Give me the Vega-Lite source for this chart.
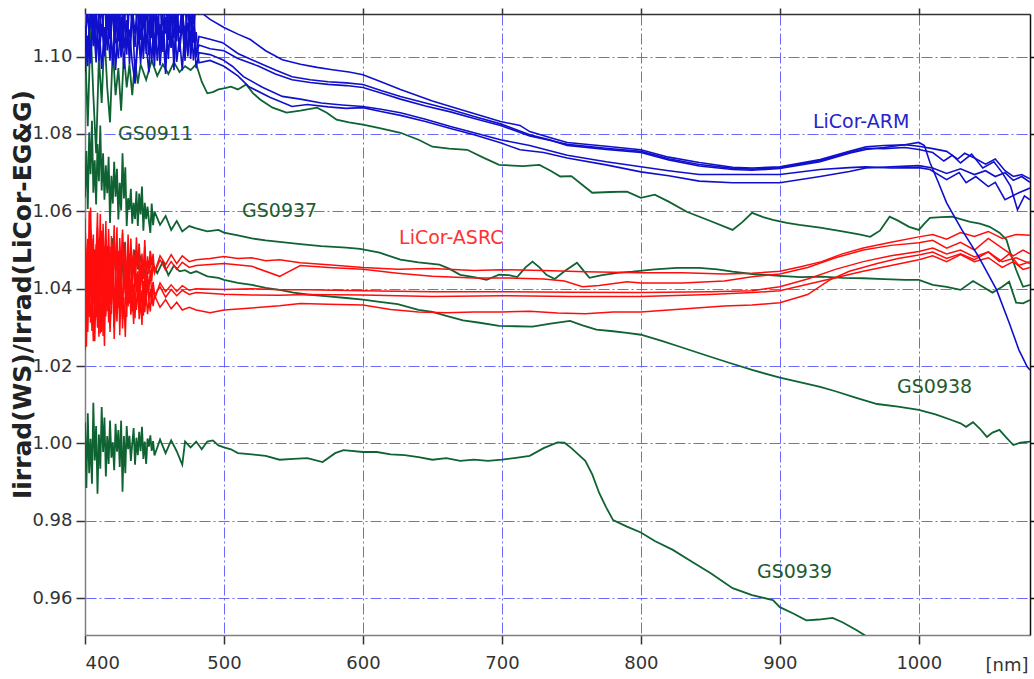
{
"$schema": "https://vega.github.io/schema/vega-lite/v6.json",
"width": 945, "height": 621, "autosize": "none",
"padding": {"left": 85, "top": 14, "right": 4, "bottom": 44},
"background": "white",
"config": {"view": {"stroke": null}, "font": "DejaVu Sans"},
"datasets": {
"labels": [
{"x":423.7,"y":1.080,"t":"GS0911","c":"G"},
{"x":513,"y":1.0602,"t":"GS0937","c":"G"},
{"x":626,"y":1.053,"t":"LiCor-ASRC","c":"R"},
{"x":923.8,"y":1.0832,"t":"LiCor-ARM","c":"B"},
{"x":984.3,"y":1.0146,"t":"GS0938","c":"G"},
{"x":883.5,"y":0.9667,"t":"GS0939","c":"G"}
],
"lines": [
{"s":"G39","x":400,"y":1.0055},{"s":"G39","x":401,"y":0.9885},{"s":"G39","x":402,"y":1.0078},{"s":"G39","x":403,"y":0.9923},{"s":"G39","x":404,"y":1.0012},{"s":"G39","x":405,"y":0.9896},{"s":"G39","x":406,"y":1.0105},{"s":"G39","x":407,"y":0.9956},{"s":"G39","x":408,"y":1.0045},{"s":"G39","x":409,"y":0.987},{"s":"G39","x":410,"y":1.0023},{"s":"G39","x":411,"y":0.9935},{"s":"G39","x":412,"y":1.0094},{"s":"G39","x":413,"y":0.9978},{"s":"G39","x":414,"y":1.0067},{"s":"G39","x":415,"y":0.9915},{"s":"G39","x":416,"y":1.0019},{"s":"G39","x":417,"y":0.9947},{"s":"G39","x":418,"y":1.0059},{"s":"G39","x":419,"y":0.9963},{"s":"G39","x":420,"y":1.0003},{"s":"G39","x":421,"y":0.9931},{"s":"G39","x":422,"y":1.0051},{"s":"G39","x":423,"y":0.9979},{"s":"G39","x":424,"y":1.0035},{"s":"G39","x":425,"y":0.9939},{"s":"G39","x":426,"y":1.0059},{"s":"G39","x":427,"y":0.9875},{"s":"G39","x":428,"y":1.0019},{"s":"G39","x":429,"y":0.9923},{"s":"G39","x":430,"y":1.0045},{"s":"G39","x":431,"y":0.9985},{"s":"G39","x":432,"y":1.002},{"s":"G39","x":433,"y":0.9955},{"s":"G39","x":434,"y":1.0},{"s":"G39","x":435,"y":1.004},{"s":"G39","x":436,"y":0.9945},{"s":"G39","x":437,"y":1.0015},{"s":"G39","x":438,"y":0.997},{"s":"G39","x":439,"y":1.003},{"s":"G39","x":440,"y":0.998},{"s":"G39","x":441,"y":1.0043},{"s":"G39","x":442,"y":0.996},{"s":"G39","x":443,"y":1.0005},{"s":"G39","x":444,"y":0.9947},{"s":"G39","x":445,"y":1.0013},{"s":"G39","x":446,"y":0.9992},{"s":"G39","x":447,"y":1.0021},{"s":"G39","x":448,"y":0.9981},{"s":"G39","x":449,"y":1.0006},{"s":"G39","x":450,"y":0.9969},{"s":"G39","x":454,"y":1.001},{"s":"G39","x":458,"y":0.9975},{"s":"G39","x":462,"y":1.0008},{"s":"G39","x":466,"y":0.998},{"s":"G39","x":470,"y":0.9945},{"s":"G39","x":472,"y":1.0005},{"s":"G39","x":476,"y":0.999},{"s":"G39","x":480,"y":1.0005},{"s":"G39","x":484,"y":0.9985},{"s":"G39","x":488,"y":1.0005},{"s":"G39","x":492,"y":1.0008},{"s":"G39","x":496,"y":0.9995},{"s":"G39","x":500,"y":0.999},{"s":"G39","x":505,"y":0.9985},{"s":"G39","x":510,"y":0.9975},{"s":"G39","x":520,"y":0.9972},{"s":"G39","x":530,"y":0.9968},{"s":"G39","x":540,"y":0.9958},{"s":"G39","x":550,"y":0.996},{"s":"G39","x":560,"y":0.9962},{"s":"G39","x":571,"y":0.9952},{"s":"G39","x":580,"y":0.9975},{"s":"G39","x":586,"y":0.9983},{"s":"G39","x":600,"y":0.9978},{"s":"G39","x":610,"y":0.9978},{"s":"G39","x":620,"y":0.9972},{"s":"G39","x":630,"y":0.997},{"s":"G39","x":640,"y":0.9965},{"s":"G39","x":650,"y":0.9958},{"s":"G39","x":660,"y":0.9962},{"s":"G39","x":670,"y":0.9955},{"s":"G39","x":680,"y":0.9958},{"s":"G39","x":690,"y":0.9955},{"s":"G39","x":700,"y":0.9958},{"s":"G39","x":710,"y":0.9963},{"s":"G39","x":720,"y":0.9968},{"s":"G39","x":730,"y":0.9988},{"s":"G39","x":740,"y":1.0003},{"s":"G39","x":745,"y":1.0002},{"s":"G39","x":750,"y":0.9988},{"s":"G39","x":760,"y":0.9955},{"s":"G39","x":765,"y":0.992},{"s":"G39","x":770,"y":0.9872},{"s":"G39","x":775,"y":0.9835},{"s":"G39","x":780,"y":0.9802},{"s":"G39","x":790,"y":0.9785},{"s":"G39","x":800,"y":0.977},{"s":"G39","x":810,"y":0.9748},{"s":"G39","x":823,"y":0.9725},{"s":"G39","x":835,"y":0.9698},{"s":"G39","x":850,"y":0.9665},{"s":"G39","x":866,"y":0.9626},{"s":"G39","x":880,"y":0.9608},{"s":"G39","x":895,"y":0.9595},{"s":"G39","x":900,"y":0.9577},{"s":"G39","x":910,"y":0.956},{"s":"G39","x":919,"y":0.9543},{"s":"G39","x":928,"y":0.9545},{"s":"G39","x":938,"y":0.9549},{"s":"G39","x":945,"y":0.9538},{"s":"G39","x":955,"y":0.9518},{"s":"G39","x":963,"y":0.95},
{"s":"G38","x":400,"y":1.052},{"s":"G38","x":402,"y":1.041},{"s":"G38","x":404,"y":1.055},{"s":"G38","x":406,"y":1.043},{"s":"G38","x":408,"y":1.050},{"s":"G38","x":410,"y":1.038},{"s":"G38","x":412,"y":1.054},{"s":"G38","x":414,"y":1.044},{"s":"G38","x":416,"y":1.051},{"s":"G38","x":418,"y":1.040},{"s":"G38","x":420,"y":1.053},{"s":"G38","x":422,"y":1.045},{"s":"G38","x":424,"y":1.049},{"s":"G38","x":426,"y":1.041},{"s":"G38","x":428,"y":1.052},{"s":"G38","x":430,"y":1.044},{"s":"G38","x":432,"y":1.049},{"s":"G38","x":434,"y":1.042},{"s":"G38","x":436,"y":1.050},{"s":"G38","x":438,"y":1.045},{"s":"G38","x":440,"y":1.048},{"s":"G38","x":444,"y":1.043},{"s":"G38","x":448,"y":1.047},{"s":"G38","x":452,"y":1.044},{"s":"G38","x":456,"y":1.047},{"s":"G38","x":460,"y":1.0435},{"s":"G38","x":464,"y":1.046},{"s":"G38","x":468,"y":1.0445},{"s":"G38","x":472,"y":1.0448},{"s":"G38","x":476,"y":1.044},{"s":"G38","x":480,"y":1.0445},{"s":"G38","x":488,"y":1.0432},{"s":"G38","x":496,"y":1.0428},{"s":"G38","x":500,"y":1.0423},{"s":"G38","x":510,"y":1.0415},{"s":"G38","x":520,"y":1.041},{"s":"G38","x":530,"y":1.0402},{"s":"G38","x":540,"y":1.0397},{"s":"G38","x":550,"y":1.039},{"s":"G38","x":560,"y":1.0385},{"s":"G38","x":575,"y":1.038},{"s":"G38","x":588,"y":1.0376},{"s":"G38","x":600,"y":1.0372},{"s":"G38","x":612,"y":1.0366},{"s":"G38","x":625,"y":1.036},{"s":"G38","x":640,"y":1.0345},{"s":"G38","x":650,"y":1.034},{"s":"G38","x":660,"y":1.033},{"s":"G38","x":672,"y":1.0318},{"s":"G38","x":684,"y":1.0312},{"s":"G38","x":698,"y":1.0304},{"s":"G38","x":710,"y":1.0303},{"s":"G38","x":722,"y":1.0302},{"s":"G38","x":735,"y":1.031},{"s":"G38","x":749,"y":1.0317},{"s":"G38","x":758,"y":1.0305},{"s":"G38","x":768,"y":1.0294},{"s":"G38","x":780,"y":1.029},{"s":"G38","x":790,"y":1.0286},{"s":"G38","x":800,"y":1.0281},{"s":"G38","x":815,"y":1.0265},{"s":"G38","x":828,"y":1.025},{"s":"G38","x":845,"y":1.023},{"s":"G38","x":864,"y":1.0208},{"s":"G38","x":880,"y":1.019},{"s":"G38","x":900,"y":1.017},{"s":"G38","x":915,"y":1.0158},{"s":"G38","x":929,"y":1.0146},{"s":"G38","x":940,"y":1.0135},{"s":"G38","x":955,"y":1.0118},{"s":"G38","x":970,"y":1.0102},{"s":"G38","x":985,"y":1.0095},{"s":"G38","x":1000,"y":1.0087},{"s":"G38","x":1012,"y":1.0075},{"s":"G38","x":1024,"y":1.006},{"s":"G38","x":1030,"y":1.0052},{"s":"G38","x":1034,"y":1.0043},{"s":"G38","x":1039,"y":1.0055},{"s":"G38","x":1044,"y":1.0038},{"s":"G38","x":1049,"y":1.0017},{"s":"G38","x":1053,"y":1.0028},{"s":"G38","x":1058,"y":1.0035},{"s":"G38","x":1063,"y":1.0015},{"s":"G38","x":1068,"y":0.9996},{"s":"G38","x":1073,"y":1.0002},{"s":"G38","x":1080,"y":1.0005},
{"s":"G37","x":400,"y":1.0636},{"s":"G37","x":401,"y":1.0756},{"s":"G37","x":402,"y":1.0606},{"s":"G37","x":403,"y":1.0804},{"s":"G37","x":404,"y":1.0696},{"s":"G37","x":405,"y":1.0834},{"s":"G37","x":406,"y":1.0648},{"s":"G37","x":407,"y":1.0732},{"s":"G37","x":408,"y":1.0618},{"s":"G37","x":409,"y":1.0774},{"s":"G37","x":410,"y":1.0678},{"s":"G37","x":411,"y":1.0822},{"s":"G37","x":412,"y":1.0654},{"s":"G37","x":413,"y":1.075},{"s":"G37","x":414,"y":1.063},{"s":"G37","x":415,"y":1.0719},{"s":"G37","x":416,"y":1.0647},{"s":"G37","x":417,"y":1.0741},{"s":"G37","x":418,"y":1.057},{"s":"G37","x":419,"y":1.0692},{"s":"G37","x":420,"y":1.062},{"s":"G37","x":421,"y":1.0728},{"s":"G37","x":422,"y":1.0638},{"s":"G37","x":423,"y":1.071},{"s":"G37","x":424,"y":1.0579},{"s":"G37","x":425,"y":1.0674},{"s":"G37","x":426,"y":1.0602},{"s":"G37","x":427,"y":1.075},{"s":"G37","x":428,"y":1.0633},{"s":"G37","x":429,"y":1.0714},{"s":"G37","x":430,"y":1.0562},{"s":"G37","x":431,"y":1.0634},{"s":"G37","x":432,"y":1.0604},{"s":"G37","x":433,"y":1.0658},{"s":"G37","x":434,"y":1.0568},{"s":"G37","x":435,"y":1.0622},{"s":"G37","x":436,"y":1.058},{"s":"G37","x":437,"y":1.0652},{"s":"G37","x":438,"y":1.0562},{"s":"G37","x":439,"y":1.0646},{"s":"G37","x":440,"y":1.0592},{"s":"G37","x":441,"y":1.0664},{"s":"G37","x":442,"y":1.055},{"s":"G37","x":443,"y":1.0622},{"s":"G37","x":444,"y":1.058},{"s":"G37","x":445,"y":1.0612},{"s":"G37","x":446,"y":1.0576},{"s":"G37","x":447,"y":1.0544},{"s":"G37","x":448,"y":1.062},{"s":"G37","x":449,"y":1.0564},{"s":"G37","x":450,"y":1.06},{"s":"G37","x":454,"y":1.0565},{"s":"G37","x":458,"y":1.0588},{"s":"G37","x":462,"y":1.0552},{"s":"G37","x":466,"y":1.0575},{"s":"G37","x":470,"y":1.0548},{"s":"G37","x":475,"y":1.0562},{"s":"G37","x":480,"y":1.0556},{"s":"G37","x":488,"y":1.0548},{"s":"G37","x":496,"y":1.0552},{"s":"G37","x":500,"y":1.0545},{"s":"G37","x":510,"y":1.0538},{"s":"G37","x":520,"y":1.053},{"s":"G37","x":530,"y":1.0525},{"s":"G37","x":540,"y":1.0521},{"s":"G37","x":555,"y":1.0515},{"s":"G37","x":570,"y":1.051},{"s":"G37","x":588,"y":1.0506},{"s":"G37","x":598,"y":1.0503},{"s":"G37","x":612,"y":1.0493},{"s":"G37","x":627,"y":1.0475},{"s":"G37","x":640,"y":1.0468},{"s":"G37","x":655,"y":1.0462},{"s":"G37","x":662,"y":1.0452},{"s":"G37","x":670,"y":1.0436},{"s":"G37","x":680,"y":1.043},{"s":"G37","x":689,"y":1.0423},{"s":"G37","x":698,"y":1.0436},{"s":"G37","x":705,"y":1.0435},{"s":"G37","x":711,"y":1.043},{"s":"G37","x":717,"y":1.0455},{"s":"G37","x":722,"y":1.047},{"s":"G37","x":727,"y":1.0455},{"s":"G37","x":732,"y":1.0436},{"s":"G37","x":738,"y":1.0425},{"s":"G37","x":745,"y":1.0445},{"s":"G37","x":754,"y":1.0467},{"s":"G37","x":758,"y":1.045},{"s":"G37","x":763,"y":1.0428},{"s":"G37","x":772,"y":1.0435},{"s":"G37","x":783,"y":1.0441},{"s":"G37","x":794,"y":1.0444},{"s":"G37","x":810,"y":1.045},{"s":"G37","x":826,"y":1.0454},{"s":"G37","x":842,"y":1.0454},{"s":"G37","x":855,"y":1.045},{"s":"G37","x":866,"y":1.0444},{"s":"G37","x":880,"y":1.0438},{"s":"G37","x":900,"y":1.0433},{"s":"G37","x":915,"y":1.043},{"s":"G37","x":930,"y":1.0431},{"s":"G37","x":945,"y":1.0428},{"s":"G37","x":960,"y":1.0427},{"s":"G37","x":975,"y":1.0425},{"s":"G37","x":990,"y":1.0423},{"s":"G37","x":1000,"y":1.0423},{"s":"G37","x":1010,"y":1.041},{"s":"G37","x":1020,"y":1.0405},{"s":"G37","x":1030,"y":1.0397},{"s":"G37","x":1039,"y":1.042},{"s":"G37","x":1046,"y":1.0405},{"s":"G37","x":1053,"y":1.039},{"s":"G37","x":1060,"y":1.0405},{"s":"G37","x":1065,"y":1.0418},{"s":"G37","x":1070,"y":1.0364},{"s":"G37","x":1075,"y":1.0362},{"s":"G37","x":1080,"y":1.0371},
{"s":"G11","x":400,"y":1.104},{"s":"G11","x":402,"y":1.082},{"s":"G11","x":404,"y":1.108},{"s":"G11","x":406,"y":1.090},{"s":"G11","x":408,"y":1.075},{"s":"G11","x":410,"y":1.100},{"s":"G11","x":412,"y":1.088},{"s":"G11","x":414,"y":1.106},{"s":"G11","x":416,"y":1.092},{"s":"G11","x":418,"y":1.083},{"s":"G11","x":420,"y":1.102},{"s":"G11","x":422,"y":1.090},{"s":"G11","x":424,"y":1.097},{"s":"G11","x":426,"y":1.086},{"s":"G11","x":428,"y":1.101},{"s":"G11","x":430,"y":1.092},{"s":"G11","x":432,"y":1.098},{"s":"G11","x":434,"y":1.090},{"s":"G11","x":436,"y":1.099},{"s":"G11","x":438,"y":1.093},{"s":"G11","x":440,"y":1.098},{"s":"G11","x":444,"y":1.094},{"s":"G11","x":448,"y":1.099},{"s":"G11","x":452,"y":1.095},{"s":"G11","x":456,"y":1.098},{"s":"G11","x":460,"y":1.0955},{"s":"G11","x":464,"y":1.0985},{"s":"G11","x":468,"y":1.096},{"s":"G11","x":472,"y":1.0975},{"s":"G11","x":476,"y":1.0965},{"s":"G11","x":480,"y":1.098},{"s":"G11","x":484,"y":1.0935},{"s":"G11","x":488,"y":1.0905},{"s":"G11","x":492,"y":1.0908},{"s":"G11","x":496,"y":1.0915},{"s":"G11","x":500,"y":1.0918},{"s":"G11","x":505,"y":1.0922},{"s":"G11","x":510,"y":1.0915},{"s":"G11","x":516,"y":1.0928},{"s":"G11","x":521,"y":1.0905},{"s":"G11","x":526,"y":1.0889},{"s":"G11","x":535,"y":1.0868},{"s":"G11","x":545,"y":1.0855},{"s":"G11","x":555,"y":1.086},{"s":"G11","x":567,"y":1.0868},{"s":"G11","x":574,"y":1.0855},{"s":"G11","x":581,"y":1.0837},{"s":"G11","x":590,"y":1.083},{"s":"G11","x":600,"y":1.0824},{"s":"G11","x":612,"y":1.0815},{"s":"G11","x":627,"y":1.0803},{"s":"G11","x":640,"y":1.0785},{"s":"G11","x":650,"y":1.0767},{"s":"G11","x":662,"y":1.0762},{"s":"G11","x":675,"y":1.0759},{"s":"G11","x":687,"y":1.0738},{"s":"G11","x":698,"y":1.072},{"s":"G11","x":715,"y":1.0717},{"s":"G11","x":727,"y":1.072},{"s":"G11","x":735,"y":1.0705},{"s":"G11","x":742,"y":1.069},{"s":"G11","x":750,"y":1.0691},{"s":"G11","x":758,"y":1.0668},{"s":"G11","x":765,"y":1.0648},{"s":"G11","x":778,"y":1.065},{"s":"G11","x":790,"y":1.0651},{"s":"G11","x":800,"y":1.0635},{"s":"G11","x":810,"y":1.0643},{"s":"G11","x":820,"y":1.0625},{"s":"G11","x":833,"y":1.0599},{"s":"G11","x":850,"y":1.0575},{"s":"G11","x":866,"y":1.0552},{"s":"G11","x":873,"y":1.0572},{"s":"G11","x":880,"y":1.0596},{"s":"G11","x":888,"y":1.0585},{"s":"G11","x":895,"y":1.0578},{"s":"G11","x":905,"y":1.057},{"s":"G11","x":914,"y":1.0565},{"s":"G11","x":929,"y":1.0558},{"s":"G11","x":945,"y":1.0548},{"s":"G11","x":958,"y":1.054},{"s":"G11","x":965,"y":1.0534},{"s":"G11","x":972,"y":1.055},{"s":"G11","x":979,"y":1.0586},{"s":"G11","x":985,"y":1.0576},{"s":"G11","x":993,"y":1.056},{"s":"G11","x":1000,"y":1.0552},{"s":"G11","x":1004,"y":1.0568},{"s":"G11","x":1008,"y":1.0583},{"s":"G11","x":1016,"y":1.0585},{"s":"G11","x":1024,"y":1.0586},{"s":"G11","x":1030,"y":1.058},{"s":"G11","x":1037,"y":1.0573},{"s":"G11","x":1044,"y":1.0568},{"s":"G11","x":1051,"y":1.056},{"s":"G11","x":1058,"y":1.0545},{"s":"G11","x":1063,"y":1.0527},{"s":"G11","x":1067,"y":1.048},{"s":"G11","x":1070,"y":1.0449},{"s":"G11","x":1075,"y":1.0405},{"s":"G11","x":1080,"y":1.041},
{"s":"R1","x":400,"y":1.0582},{"s":"R1","x":401,"y":1.0386},{"s":"R1","x":402,"y":1.0512},{"s":"R1","x":403,"y":1.0344},{"s":"R1","x":404,"y":1.061},{"s":"R1","x":405,"y":1.0442},{"s":"R1","x":406,"y":1.054},{"s":"R1","x":407,"y":1.0358},{"s":"R1","x":408,"y":1.0484},{"s":"R1","x":409,"y":1.0596},{"s":"R1","x":410,"y":1.033},{"s":"R1","x":411,"y":1.0526},{"s":"R1","x":412,"y":1.04},{"s":"R1","x":413,"y":1.0568},{"s":"R1","x":414,"y":1.0428},{"s":"R1","x":415,"y":1.0575},{"s":"R1","x":416,"y":1.0393},{"s":"R1","x":417,"y":1.0492},{"s":"R1","x":418,"y":1.0366},{"s":"R1","x":419,"y":1.0536},{"s":"R1","x":420,"y":1.0459},{"s":"R1","x":421,"y":1.0564},{"s":"R1","x":422,"y":1.0421},{"s":"R1","x":423,"y":1.0509},{"s":"R1","x":424,"y":1.0377},{"s":"R1","x":425,"y":1.0531},{"s":"R1","x":426,"y":1.0443},{"s":"R1","x":427,"y":1.0553},{"s":"R1","x":428,"y":1.0399},{"s":"R1","x":429,"y":1.0487},{"s":"R1","x":430,"y":1.0407},{"s":"R1","x":431,"y":1.054},{"s":"R1","x":432,"y":1.0446},{"s":"R1","x":433,"y":1.0502},{"s":"R1","x":434,"y":1.0418},{"s":"R1","x":435,"y":1.0488},{"s":"R1","x":436,"y":1.0432},{"s":"R1","x":437,"y":1.0533},{"s":"R1","x":438,"y":1.046},{"s":"R1","x":439,"y":1.0516},{"s":"R1","x":440,"y":1.04},{"s":"R1","x":441,"y":1.0491},{"s":"R1","x":442,"y":1.0428},{"s":"R1","x":443,"y":1.0526},{"s":"R1","x":444,"y":1.0442},{"s":"R1","x":445,"y":1.0474},{"s":"R1","x":446,"y":1.0438},{"s":"R1","x":447,"y":1.0498},{"s":"R1","x":448,"y":1.0462},{"s":"R1","x":449,"y":1.049},{"s":"R1","x":450,"y":1.0442},{"s":"R1","x":454,"y":1.0485},{"s":"R1","x":458,"y":1.0462},{"s":"R1","x":462,"y":1.0488},{"s":"R1","x":466,"y":1.0465},{"s":"R1","x":470,"y":1.0485},{"s":"R1","x":475,"y":1.047},{"s":"R1","x":480,"y":1.0475},{"s":"R1","x":490,"y":1.0478},{"s":"R1","x":500,"y":1.0483},{"s":"R1","x":510,"y":1.0478},{"s":"R1","x":520,"y":1.048},{"s":"R1","x":530,"y":1.0472},{"s":"R1","x":540,"y":1.0475},{"s":"R1","x":555,"y":1.0467},{"s":"R1","x":575,"y":1.0462},{"s":"R1","x":600,"y":1.0455},{"s":"R1","x":625,"y":1.045},{"s":"R1","x":650,"y":1.0452},{"s":"R1","x":680,"y":1.0447},{"s":"R1","x":700,"y":1.0449},{"s":"R1","x":730,"y":1.0447},{"s":"R1","x":760,"y":1.0444},{"s":"R1","x":800,"y":1.0441},{"s":"R1","x":830,"y":1.0441},{"s":"R1","x":860,"y":1.0438},{"s":"R1","x":880,"y":1.044},{"s":"R1","x":900,"y":1.0445},{"s":"R1","x":915,"y":1.0457},{"s":"R1","x":930,"y":1.047},{"s":"R1","x":945,"y":1.049},{"s":"R1","x":960,"y":1.0505},{"s":"R1","x":980,"y":1.052},{"s":"R1","x":1000,"y":1.0534},{"s":"R1","x":1010,"y":1.054},{"s":"R1","x":1020,"y":1.0528},{"s":"R1","x":1030,"y":1.0545},{"s":"R1","x":1040,"y":1.0535},{"s":"R1","x":1050,"y":1.0548},{"s":"R1","x":1060,"y":1.053},{"s":"R1","x":1070,"y":1.054},{"s":"R1","x":1080,"y":1.0538},
{"s":"R2","x":400,"y":1.0572},{"s":"R2","x":401,"y":1.0446},{"s":"R2","x":402,"y":1.0334},{"s":"R2","x":403,"y":1.06},{"s":"R2","x":404,"y":1.0404},{"s":"R2","x":405,"y":1.053},{"s":"R2","x":406,"y":1.0362},{"s":"R2","x":407,"y":1.0502},{"s":"R2","x":408,"y":1.0327},{"s":"R2","x":409,"y":1.0558},{"s":"R2","x":410,"y":1.0432},{"s":"R2","x":411,"y":1.0593},{"s":"R2","x":412,"y":1.0376},{"s":"R2","x":413,"y":1.0474},{"s":"R2","x":414,"y":1.0341},{"s":"R2","x":415,"y":1.051},{"s":"R2","x":416,"y":1.0422},{"s":"R2","x":417,"y":1.0554},{"s":"R2","x":418,"y":1.04},{"s":"R2","x":419,"y":1.0488},{"s":"R2","x":420,"y":1.0378},{"s":"R2","x":421,"y":1.0532},{"s":"R2","x":422,"y":1.0444},{"s":"R2","x":423,"y":1.0559},{"s":"R2","x":424,"y":1.035},{"s":"R2","x":425,"y":1.0499},{"s":"R2","x":426,"y":1.041},{"s":"R2","x":427,"y":1.0543},{"s":"R2","x":428,"y":1.0433},{"s":"R2","x":429,"y":1.0521},{"s":"R2","x":430,"y":1.0397},{"s":"R2","x":431,"y":1.0471},{"s":"R2","x":432,"y":1.0415},{"s":"R2","x":433,"y":1.053},{"s":"R2","x":434,"y":1.0439},{"s":"R2","x":435,"y":1.0502},{"s":"R2","x":436,"y":1.0404},{"s":"R2","x":437,"y":1.0488},{"s":"R2","x":438,"y":1.0453},{"s":"R2","x":439,"y":1.0516},{"s":"R2","x":440,"y":1.0411},{"s":"R2","x":441,"y":1.0474},{"s":"R2","x":442,"y":1.0425},{"s":"R2","x":443,"y":1.0509},{"s":"R2","x":444,"y":1.0404},{"s":"R2","x":445,"y":1.0484},{"s":"R2","x":446,"y":1.0448},{"s":"R2","x":447,"y":1.0496},{"s":"R2","x":448,"y":1.042},{"s":"R2","x":449,"y":1.0468},{"s":"R2","x":450,"y":1.044},{"s":"R2","x":454,"y":1.0475},{"s":"R2","x":458,"y":1.0448},{"s":"R2","x":462,"y":1.047},{"s":"R2","x":466,"y":1.045},{"s":"R2","x":470,"y":1.0468},{"s":"R2","x":475,"y":1.0455},{"s":"R2","x":480,"y":1.046},{"s":"R2","x":500,"y":1.0465},{"s":"R2","x":520,"y":1.0458},{"s":"R2","x":540,"y":1.0432},{"s":"R2","x":555,"y":1.046},{"s":"R2","x":575,"y":1.0455},{"s":"R2","x":600,"y":1.045},{"s":"R2","x":625,"y":1.044},{"s":"R2","x":650,"y":1.0432},{"s":"R2","x":680,"y":1.0428},{"s":"R2","x":700,"y":1.0428},{"s":"R2","x":730,"y":1.0425},{"s":"R2","x":745,"y":1.042},{"s":"R2","x":758,"y":1.0405},{"s":"R2","x":770,"y":1.0408},{"s":"R2","x":790,"y":1.0418},{"s":"R2","x":800,"y":1.0415},{"s":"R2","x":830,"y":1.0415},{"s":"R2","x":860,"y":1.042},{"s":"R2","x":880,"y":1.0431},{"s":"R2","x":900,"y":1.0438},{"s":"R2","x":920,"y":1.0455},{"s":"R2","x":940,"y":1.048},{"s":"R2","x":960,"y":1.05},{"s":"R2","x":980,"y":1.0512},{"s":"R2","x":1000,"y":1.0519},{"s":"R2","x":1010,"y":1.0525},{"s":"R2","x":1020,"y":1.0505},{"s":"R2","x":1030,"y":1.052},{"s":"R2","x":1040,"y":1.05},{"s":"R2","x":1050,"y":1.053},{"s":"R2","x":1060,"y":1.0505},{"s":"R2","x":1068,"y":1.0485},{"s":"R2","x":1075,"y":1.05},{"s":"R2","x":1080,"y":1.049},
{"s":"R3","x":400,"y":1.0494},{"s":"R3","x":401,"y":1.0396},{"s":"R3","x":402,"y":1.0529},{"s":"R3","x":403,"y":1.0347},{"s":"R3","x":404,"y":1.0459},{"s":"R3","x":405,"y":1.0291},{"s":"R3","x":406,"y":1.0487},{"s":"R3","x":407,"y":1.0375},{"s":"R3","x":408,"y":1.0515},{"s":"R3","x":409,"y":1.0319},{"s":"R3","x":410,"y":1.0431},{"s":"R3","x":411,"y":1.0284},{"s":"R3","x":412,"y":1.055},{"s":"R3","x":413,"y":1.0361},{"s":"R3","x":414,"y":1.0473},{"s":"R3","x":415,"y":1.0328},{"s":"R3","x":416,"y":1.0438},{"s":"R3","x":417,"y":1.035},{"s":"R3","x":418,"y":1.0509},{"s":"R3","x":419,"y":1.0394},{"s":"R3","x":420,"y":1.0482},{"s":"R3","x":421,"y":1.03},{"s":"R3","x":422,"y":1.0443},{"s":"R3","x":423,"y":1.0344},{"s":"R3","x":424,"y":1.0498},{"s":"R3","x":425,"y":1.0366},{"s":"R3","x":426,"y":1.0421},{"s":"R3","x":427,"y":1.0322},{"s":"R3","x":428,"y":1.0487},{"s":"R3","x":429,"y":1.0388},{"s":"R3","x":430,"y":1.0445},{"s":"R3","x":431,"y":1.0361},{"s":"R3","x":432,"y":1.0466},{"s":"R3","x":433,"y":1.0368},{"s":"R3","x":434,"y":1.0431},{"s":"R3","x":435,"y":1.0347},{"s":"R3","x":436,"y":1.048},{"s":"R3","x":437,"y":1.0396},{"s":"R3","x":438,"y":1.0445},{"s":"R3","x":439,"y":1.0354},{"s":"R3","x":440,"y":1.0417},{"s":"R3","x":441,"y":1.0473},{"s":"R3","x":442,"y":1.034},{"s":"R3","x":443,"y":1.0438},{"s":"R3","x":444,"y":1.0375},{"s":"R3","x":445,"y":1.0438},{"s":"R3","x":446,"y":1.0398},{"s":"R3","x":447,"y":1.0448},{"s":"R3","x":448,"y":1.0382},{"s":"R3","x":449,"y":1.0418},{"s":"R3","x":450,"y":1.0372},{"s":"R3","x":454,"y":1.0415},{"s":"R3","x":458,"y":1.0392},{"s":"R3","x":462,"y":1.041},{"s":"R3","x":466,"y":1.0393},{"s":"R3","x":470,"y":1.0408},{"s":"R3","x":475,"y":1.0396},{"s":"R3","x":480,"y":1.04},{"s":"R3","x":500,"y":1.0398},{"s":"R3","x":520,"y":1.04},{"s":"R3","x":540,"y":1.0397},{"s":"R3","x":560,"y":1.0397},{"s":"R3","x":600,"y":1.0395},{"s":"R3","x":650,"y":1.0392},{"s":"R3","x":700,"y":1.0392},{"s":"R3","x":750,"y":1.0391},{"s":"R3","x":800,"y":1.039},{"s":"R3","x":850,"y":1.0392},{"s":"R3","x":880,"y":1.0395},{"s":"R3","x":900,"y":1.0405},{"s":"R3","x":920,"y":1.0425},{"s":"R3","x":940,"y":1.045},{"s":"R3","x":960,"y":1.047},{"s":"R3","x":980,"y":1.0485},{"s":"R3","x":1000,"y":1.0496},{"s":"R3","x":1010,"y":1.0505},{"s":"R3","x":1020,"y":1.049},{"s":"R3","x":1030,"y":1.05},{"s":"R3","x":1040,"y":1.0482},{"s":"R3","x":1050,"y":1.0495},{"s":"R3","x":1058,"y":1.047},{"s":"R3","x":1065,"y":1.049},{"s":"R3","x":1072,"y":1.046},{"s":"R3","x":1080,"y":1.047},
{"s":"R4","x":400,"y":1.0516},{"s":"R4","x":401,"y":1.025},{"s":"R4","x":402,"y":1.0439},{"s":"R4","x":403,"y":1.0327},{"s":"R4","x":404,"y":1.0495},{"s":"R4","x":405,"y":1.0355},{"s":"R4","x":406,"y":1.0467},{"s":"R4","x":407,"y":1.0264},{"s":"R4","x":408,"y":1.0411},{"s":"R4","x":409,"y":1.0299},{"s":"R4","x":410,"y":1.053},{"s":"R4","x":411,"y":1.0348},{"s":"R4","x":412,"y":1.0474},{"s":"R4","x":413,"y":1.0278},{"s":"R4","x":414,"y":1.0446},{"s":"R4","x":415,"y":1.0379},{"s":"R4","x":416,"y":1.0478},{"s":"R4","x":417,"y":1.0313},{"s":"R4","x":418,"y":1.0412},{"s":"R4","x":419,"y":1.0335},{"s":"R4","x":420,"y":1.0467},{"s":"R4","x":421,"y":1.0302},{"s":"R4","x":422,"y":1.0456},{"s":"R4","x":423,"y":1.0357},{"s":"R4","x":424,"y":1.0489},{"s":"R4","x":425,"y":1.028},{"s":"R4","x":426,"y":1.0412},{"s":"R4","x":427,"y":1.0335},{"s":"R4","x":428,"y":1.0478},{"s":"R4","x":429,"y":1.0379},{"s":"R4","x":430,"y":1.0327},{"s":"R4","x":431,"y":1.046},{"s":"R4","x":432,"y":1.0362},{"s":"R4","x":433,"y":1.0425},{"s":"R4","x":434,"y":1.0341},{"s":"R4","x":435,"y":1.0411},{"s":"R4","x":436,"y":1.0324},{"s":"R4","x":437,"y":1.0439},{"s":"R4","x":438,"y":1.0376},{"s":"R4","x":439,"y":1.0457},{"s":"R4","x":440,"y":1.0348},{"s":"R4","x":441,"y":1.0397},{"s":"R4","x":442,"y":1.033},{"s":"R4","x":443,"y":1.0422},{"s":"R4","x":444,"y":1.0365},{"s":"R4","x":445,"y":1.0424},{"s":"R4","x":446,"y":1.0368},{"s":"R4","x":447,"y":1.04},{"s":"R4","x":448,"y":1.036},{"s":"R4","x":449,"y":1.0416},{"s":"R4","x":450,"y":1.0384},{"s":"R4","x":454,"y":1.0405},{"s":"R4","x":458,"y":1.0378},{"s":"R4","x":462,"y":1.0398},{"s":"R4","x":466,"y":1.0382},{"s":"R4","x":470,"y":1.0396},{"s":"R4","x":475,"y":1.0385},{"s":"R4","x":480,"y":1.039},{"s":"R4","x":500,"y":1.0386},{"s":"R4","x":520,"y":1.0384},{"s":"R4","x":540,"y":1.0383},{"s":"R4","x":560,"y":1.0385},{"s":"R4","x":600,"y":1.0384},{"s":"R4","x":650,"y":1.038},{"s":"R4","x":700,"y":1.0382},{"s":"R4","x":750,"y":1.038},{"s":"R4","x":800,"y":1.038},{"s":"R4","x":850,"y":1.0385},{"s":"R4","x":880,"y":1.039},{"s":"R4","x":900,"y":1.0395},{"s":"R4","x":930,"y":1.042},{"s":"R4","x":960,"y":1.0445},{"s":"R4","x":980,"y":1.046},{"s":"R4","x":1000,"y":1.0475},{"s":"R4","x":1010,"y":1.0485},{"s":"R4","x":1020,"y":1.047},{"s":"R4","x":1030,"y":1.0488},{"s":"R4","x":1040,"y":1.047},{"s":"R4","x":1050,"y":1.048},{"s":"R4","x":1060,"y":1.0455},{"s":"R4","x":1068,"y":1.047},{"s":"R4","x":1075,"y":1.045},{"s":"R4","x":1080,"y":1.0455},
{"s":"R5","x":400,"y":1.024},{"s":"R5","x":401,"y":1.0396},{"s":"R5","x":402,"y":1.0288},{"s":"R5","x":403,"y":1.0456},{"s":"R5","x":404,"y":1.0312},{"s":"R5","x":405,"y":1.0372},{"s":"R5","x":406,"y":1.0264},{"s":"R5","x":407,"y":1.0444},{"s":"R5","x":408,"y":1.0336},{"s":"R5","x":409,"y":1.042},{"s":"R5","x":410,"y":1.0276},{"s":"R5","x":411,"y":1.0456},{"s":"R5","x":412,"y":1.0288},{"s":"R5","x":413,"y":1.0396},{"s":"R5","x":414,"y":1.0252},{"s":"R5","x":415,"y":1.045},{"s":"R5","x":416,"y":1.0342},{"s":"R5","x":417,"y":1.0405},{"s":"R5","x":418,"y":1.0288},{"s":"R5","x":419,"y":1.0369},{"s":"R5","x":420,"y":1.0441},{"s":"R5","x":421,"y":1.027},{"s":"R5","x":422,"y":1.0396},{"s":"R5","x":423,"y":1.0315},{"s":"R5","x":424,"y":1.0423},{"s":"R5","x":425,"y":1.0333},{"s":"R5","x":426,"y":1.0446},{"s":"R5","x":427,"y":1.0297},{"s":"R5","x":428,"y":1.0378},{"s":"R5","x":429,"y":1.0275},{"s":"R5","x":430,"y":1.0396},{"s":"R5","x":431,"y":1.0354},{"s":"R5","x":432,"y":1.0411},{"s":"R5","x":433,"y":1.0333},{"s":"R5","x":434,"y":1.0381},{"s":"R5","x":435,"y":1.0309},{"s":"R5","x":436,"y":1.0393},{"s":"R5","x":437,"y":1.0345},{"s":"R5","x":438,"y":1.0405},{"s":"R5","x":439,"y":1.0321},{"s":"R5","x":440,"y":1.0369},{"s":"R5","x":441,"y":1.0306},{"s":"R5","x":442,"y":1.042},{"s":"R5","x":443,"y":1.0339},{"s":"R5","x":444,"y":1.0387},{"s":"R5","x":445,"y":1.0334},{"s":"R5","x":446,"y":1.0369},{"s":"R5","x":447,"y":1.0341},{"s":"R5","x":448,"y":1.0392},{"s":"R5","x":449,"y":1.0355},{"s":"R5","x":450,"y":1.0383},{"s":"R5","x":454,"y":1.0352},{"s":"R5","x":458,"y":1.0372},{"s":"R5","x":462,"y":1.0348},{"s":"R5","x":466,"y":1.0365},{"s":"R5","x":470,"y":1.0345},{"s":"R5","x":475,"y":1.0352},{"s":"R5","x":480,"y":1.0345},{"s":"R5","x":490,"y":1.0338},{"s":"R5","x":500,"y":1.0345},{"s":"R5","x":520,"y":1.035},{"s":"R5","x":540,"y":1.0356},{"s":"R5","x":555,"y":1.0362},{"s":"R5","x":575,"y":1.036},{"s":"R5","x":600,"y":1.0358},{"s":"R5","x":620,"y":1.0346},{"s":"R5","x":640,"y":1.034},{"s":"R5","x":660,"y":1.0338},{"s":"R5","x":680,"y":1.034},{"s":"R5","x":700,"y":1.034},{"s":"R5","x":720,"y":1.0342},{"s":"R5","x":740,"y":1.0337},{"s":"R5","x":760,"y":1.0335},{"s":"R5","x":780,"y":1.034},{"s":"R5","x":800,"y":1.034},{"s":"R5","x":820,"y":1.0345},{"s":"R5","x":840,"y":1.035},{"s":"R5","x":860,"y":1.0355},{"s":"R5","x":880,"y":1.0358},{"s":"R5","x":900,"y":1.0364},{"s":"R5","x":920,"y":1.0385},{"s":"R5","x":936,"y":1.0423},{"s":"R5","x":950,"y":1.0445},{"s":"R5","x":970,"y":1.0465},{"s":"R5","x":985,"y":1.0478},{"s":"R5","x":1000,"y":1.0487},{"s":"R5","x":1010,"y":1.0495},{"s":"R5","x":1020,"y":1.0478},{"s":"R5","x":1030,"y":1.049},{"s":"R5","x":1040,"y":1.0475},{"s":"R5","x":1050,"y":1.0495},{"s":"R5","x":1060,"y":1.047},{"s":"R5","x":1070,"y":1.048},{"s":"R5","x":1080,"y":1.0465},
{"s":"B1","x":400,"y":1.1009},{"s":"B1","x":402,"y":1.118},{"s":"B1","x":404,"y":1.1072},{"s":"B1","x":406,"y":1.1135},{"s":"B1","x":408,"y":1.1018},{"s":"B1","x":410,"y":1.1099},{"s":"B1","x":412,"y":1.1171},{"s":"B1","x":414,"y":1.1},{"s":"B1","x":416,"y":1.1126},{"s":"B1","x":418,"y":1.1045},{"s":"B1","x":420,"y":1.1153},{"s":"B1","x":422,"y":1.1063},{"s":"B1","x":424,"y":1.1176},{"s":"B1","x":426,"y":1.1027},{"s":"B1","x":428,"y":1.1108},{"s":"B1","x":430,"y":1.1005},{"s":"B1","x":432,"y":1.1144},{"s":"B1","x":434,"y":1.1081},{"s":"B1","x":436,"y":1.1167},{"s":"B1","x":438,"y":1.105},{"s":"B1","x":440,"y":1.1122},{"s":"B1","x":442,"y":1.1014},{"s":"B1","x":444,"y":1.114},{"s":"B1","x":446,"y":1.1068},{"s":"B1","x":448,"y":1.1158},{"s":"B1","x":450,"y":1.1032},{"s":"B1","x":452,"y":1.1104},{"s":"B1","x":454,"y":1.1009},{"s":"B1","x":456,"y":1.118},{"s":"B1","x":458,"y":1.1059},{"s":"B1","x":460,"y":1.113},{"s":"B1","x":462,"y":1.1023},{"s":"B1","x":464,"y":1.1113},{"s":"B1","x":466,"y":1.104},{"s":"B1","x":468,"y":1.1171},{"s":"B1","x":470,"y":1.1077},{"s":"B1","x":472,"y":1.1149},{"s":"B1","x":474,"y":1.1},{"s":"B1","x":476,"y":1.1117},{"s":"B1","x":478,"y":1.1036},{"s":"B1","x":480,"y":1.1162},{"s":"B1","x":485,"y":1.111},{"s":"B1","x":490,"y":1.1096},{"s":"B1","x":500,"y":1.1075},{"s":"B1","x":510,"y":1.1058},{"s":"B1","x":519,"y":1.1044},{"s":"B1","x":530,"y":1.1015},{"s":"B1","x":542,"y":1.0992},{"s":"B1","x":555,"y":1.098},{"s":"B1","x":567,"y":1.0972},{"s":"B1","x":578,"y":1.0966},{"s":"B1","x":590,"y":1.096},{"s":"B1","x":600,"y":1.0953},{"s":"B1","x":613,"y":1.0935},{"s":"B1","x":627,"y":1.0915},{"s":"B1","x":640,"y":1.0898},{"s":"B1","x":650,"y":1.0885},{"s":"B1","x":663,"y":1.0871},{"s":"B1","x":675,"y":1.0858},{"s":"B1","x":687,"y":1.0845},{"s":"B1","x":699,"y":1.0832},{"s":"B1","x":713,"y":1.0822},{"s":"B1","x":720,"y":1.0806},{"s":"B1","x":735,"y":1.079},{"s":"B1","x":747,"y":1.0778},{"s":"B1","x":775,"y":1.0768},{"s":"B1","x":800,"y":1.0759},{"s":"B1","x":820,"y":1.074},{"s":"B1","x":842,"y":1.0726},{"s":"B1","x":866,"y":1.0714},{"s":"B1","x":880,"y":1.0712},{"s":"B1","x":900,"y":1.0715},{"s":"B1","x":929,"y":1.0734},{"s":"B1","x":950,"y":1.0755},{"s":"B1","x":962,"y":1.0767},{"s":"B1","x":975,"y":1.077},{"s":"B1","x":990,"y":1.0772},{"s":"B1","x":1000,"y":1.0768},{"s":"B1","x":1010,"y":1.0762},{"s":"B1","x":1020,"y":1.0755},{"s":"B1","x":1028,"y":1.0735},{"s":"B1","x":1033,"y":1.075},{"s":"B1","x":1040,"y":1.0738},{"s":"B1","x":1048,"y":1.0722},{"s":"B1","x":1055,"y":1.0735},{"s":"B1","x":1062,"y":1.0705},{"s":"B1","x":1068,"y":1.069},{"s":"B1","x":1074,"y":1.0695},{"s":"B1","x":1080,"y":1.0684},
{"s":"B2","x":400,"y":1.1034},{"s":"B2","x":402,"y":1.1115},{"s":"B2","x":404,"y":1.1007},{"s":"B2","x":406,"y":1.1097},{"s":"B2","x":408,"y":1.0985},{"s":"B2","x":410,"y":1.1133},{"s":"B2","x":412,"y":1.1052},{"s":"B2","x":414,"y":1.1156},{"s":"B2","x":416,"y":1.1016},{"s":"B2","x":418,"y":1.1079},{"s":"B2","x":420,"y":1.0994},{"s":"B2","x":422,"y":1.111},{"s":"B2","x":424,"y":1.1039},{"s":"B2","x":426,"y":1.1147},{"s":"B2","x":428,"y":1.1021},{"s":"B2","x":430,"y":1.1093},{"s":"B2","x":432,"y":1.1003},{"s":"B2","x":434,"y":1.1129},{"s":"B2","x":436,"y":1.1057},{"s":"B2","x":438,"y":1.1151},{"s":"B2","x":440,"y":1.098},{"s":"B2","x":442,"y":1.1102},{"s":"B2","x":444,"y":1.103},{"s":"B2","x":446,"y":1.1138},{"s":"B2","x":448,"y":1.1048},{"s":"B2","x":450,"y":1.112},{"s":"B2","x":452,"y":1.0989},{"s":"B2","x":454,"y":1.1084},{"s":"B2","x":456,"y":1.1012},{"s":"B2","x":458,"y":1.116},{"s":"B2","x":460,"y":1.1043},{"s":"B2","x":462,"y":1.1124},{"s":"B2","x":464,"y":1.0998},{"s":"B2","x":466,"y":1.1106},{"s":"B2","x":468,"y":1.1061},{"s":"B2","x":470,"y":1.1142},{"s":"B2","x":472,"y":1.1007},{"s":"B2","x":474,"y":1.1088},{"s":"B2","x":476,"y":1.1025},{"s":"B2","x":478,"y":1.1133},{"s":"B2","x":480,"y":1.0998},{"s":"B2","x":482,"y":1.1052},{"s":"B2","x":490,"y":1.1045},{"s":"B2","x":499,"y":1.1036},{"s":"B2","x":510,"y":1.1008},{"s":"B2","x":525,"y":1.0984},{"s":"B2","x":537,"y":1.0965},{"s":"B2","x":549,"y":1.0948},{"s":"B2","x":562,"y":1.094},{"s":"B2","x":575,"y":1.0935},{"s":"B2","x":588,"y":1.0932},{"s":"B2","x":600,"y":1.0928},{"s":"B2","x":613,"y":1.0912},{"s":"B2","x":627,"y":1.0897},{"s":"B2","x":645,"y":1.088},{"s":"B2","x":663,"y":1.0863},{"s":"B2","x":680,"y":1.0845},{"s":"B2","x":699,"y":1.0826},{"s":"B2","x":720,"y":1.0798},{"s":"B2","x":735,"y":1.0784},{"s":"B2","x":747,"y":1.077},{"s":"B2","x":775,"y":1.076},{"s":"B2","x":800,"y":1.0752},{"s":"B2","x":820,"y":1.0733},{"s":"B2","x":842,"y":1.0717},{"s":"B2","x":866,"y":1.0708},{"s":"B2","x":880,"y":1.0706},{"s":"B2","x":900,"y":1.0711},{"s":"B2","x":929,"y":1.0728},{"s":"B2","x":950,"y":1.075},{"s":"B2","x":962,"y":1.076},{"s":"B2","x":975,"y":1.0765},{"s":"B2","x":990,"y":1.0772},{"s":"B2","x":1000,"y":1.0778},{"s":"B2","x":1004,"y":1.077},{"s":"B2","x":1008,"y":1.0726},{"s":"B2","x":1014,"y":1.0675},{"s":"B2","x":1020,"y":1.0622},{"s":"B2","x":1031,"y":1.0552},{"s":"B2","x":1043,"y":1.0483},{"s":"B2","x":1056,"y":1.0397},{"s":"B2","x":1065,"y":1.0312},{"s":"B2","x":1072,"y":1.0242},{"s":"B2","x":1078,"y":1.0198},{"s":"B2","x":1080,"y":1.019},
{"s":"B5","x":400,"y":1.1079},{"s":"B5","x":402,"y":1.0998},{"s":"B5","x":404,"y":1.1133},{"s":"B5","x":406,"y":1.1052},{"s":"B5","x":408,"y":1.1115},{"s":"B5","x":410,"y":1.1007},{"s":"B5","x":412,"y":1.1142},{"s":"B5","x":414,"y":1.1016},{"s":"B5","x":416,"y":1.1097},{"s":"B5","x":418,"y":1.0989},{"s":"B5","x":420,"y":1.116},{"s":"B5","x":422,"y":1.1052},{"s":"B5","x":424,"y":1.1115},{"s":"B5","x":426,"y":1.0998},{"s":"B5","x":428,"y":1.1079},{"s":"B5","x":430,"y":1.1151},{"s":"B5","x":432,"y":1.098},{"s":"B5","x":434,"y":1.1106},{"s":"B5","x":436,"y":1.1025},{"s":"B5","x":438,"y":1.1133},{"s":"B5","x":440,"y":1.1043},{"s":"B5","x":442,"y":1.1156},{"s":"B5","x":444,"y":1.1007},{"s":"B5","x":446,"y":1.1088},{"s":"B5","x":448,"y":1.0985},{"s":"B5","x":450,"y":1.1124},{"s":"B5","x":452,"y":1.1061},{"s":"B5","x":454,"y":1.1147},{"s":"B5","x":456,"y":1.103},{"s":"B5","x":458,"y":1.1102},{"s":"B5","x":460,"y":1.0994},{"s":"B5","x":462,"y":1.112},{"s":"B5","x":464,"y":1.1048},{"s":"B5","x":466,"y":1.1138},{"s":"B5","x":468,"y":1.1012},{"s":"B5","x":470,"y":1.1084},{"s":"B5","x":472,"y":1.0989},{"s":"B5","x":474,"y":1.116},{"s":"B5","x":476,"y":1.1039},{"s":"B5","x":478,"y":1.111},{"s":"B5","x":480,"y":1.1003},{"s":"B5","x":482,"y":1.103},{"s":"B5","x":490,"y":1.102},{"s":"B5","x":500,"y":1.1015},{"s":"B5","x":510,"y":1.0995},{"s":"B5","x":525,"y":1.0975},{"s":"B5","x":537,"y":1.0955},{"s":"B5","x":549,"y":1.094},{"s":"B5","x":562,"y":1.0933},{"s":"B5","x":575,"y":1.0928},{"s":"B5","x":588,"y":1.0925},{"s":"B5","x":600,"y":1.092},{"s":"B5","x":613,"y":1.0906},{"s":"B5","x":627,"y":1.089},{"s":"B5","x":645,"y":1.0872},{"s":"B5","x":663,"y":1.0857},{"s":"B5","x":680,"y":1.084},{"s":"B5","x":699,"y":1.0822},{"s":"B5","x":720,"y":1.0795},{"s":"B5","x":735,"y":1.0783},{"s":"B5","x":747,"y":1.0773},{"s":"B5","x":775,"y":1.0763},{"s":"B5","x":800,"y":1.0755},{"s":"B5","x":820,"y":1.0736},{"s":"B5","x":842,"y":1.0721},{"s":"B5","x":866,"y":1.0711},{"s":"B5","x":880,"y":1.0709},{"s":"B5","x":900,"y":1.0713},{"s":"B5","x":929,"y":1.0731},{"s":"B5","x":950,"y":1.0752},{"s":"B5","x":962,"y":1.0763},{"s":"B5","x":975,"y":1.0762},{"s":"B5","x":990,"y":1.0765},{"s":"B5","x":1000,"y":1.076},{"s":"B5","x":1010,"y":1.0752},{"s":"B5","x":1018,"y":1.073},{"s":"B5","x":1024,"y":1.0745},{"s":"B5","x":1030,"y":1.0725},{"s":"B5","x":1038,"y":1.0748},{"s":"B5","x":1046,"y":1.0712},{"s":"B5","x":1054,"y":1.0728},{"s":"B5","x":1060,"y":1.07},{"s":"B5","x":1066,"y":1.0665},{"s":"B5","x":1071,"y":1.0604},{"s":"B5","x":1076,"y":1.064},{"s":"B5","x":1080,"y":1.063},
{"s":"B3","x":400,"y":1.1074},{"s":"B3","x":402,"y":1.0975},{"s":"B3","x":404,"y":1.1155},{"s":"B3","x":406,"y":1.1027},{"s":"B3","x":408,"y":1.1103},{"s":"B3","x":410,"y":1.0989},{"s":"B3","x":412,"y":1.1084},{"s":"B3","x":414,"y":1.1008},{"s":"B3","x":416,"y":1.1146},{"s":"B3","x":418,"y":1.1046},{"s":"B3","x":420,"y":1.1122},{"s":"B3","x":422,"y":1.0965},{"s":"B3","x":424,"y":1.1089},{"s":"B3","x":426,"y":1.1003},{"s":"B3","x":428,"y":1.1136},{"s":"B3","x":430,"y":1.1022},{"s":"B3","x":432,"y":1.107},{"s":"B3","x":434,"y":1.0984},{"s":"B3","x":436,"y":1.093},{"s":"B3","x":438,"y":1.1041},{"s":"B3","x":440,"y":1.1108},{"s":"B3","x":442,"y":1.0994},{"s":"B3","x":444,"y":1.1136},{"s":"B3","x":446,"y":1.1003},{"s":"B3","x":448,"y":1.1089},{"s":"B3","x":450,"y":1.0975},{"s":"B3","x":452,"y":1.1155},{"s":"B3","x":454,"y":1.1041},{"s":"B3","x":456,"y":1.1108},{"s":"B3","x":458,"y":1.0984},{"s":"B3","x":460,"y":1.107},{"s":"B3","x":462,"y":1.1146},{"s":"B3","x":464,"y":1.0965},{"s":"B3","x":466,"y":1.1098},{"s":"B3","x":468,"y":1.1013},{"s":"B3","x":470,"y":1.1127},{"s":"B3","x":472,"y":1.1032},{"s":"B3","x":474,"y":1.115},{"s":"B3","x":476,"y":1.0994},{"s":"B3","x":478,"y":1.1079},{"s":"B3","x":480,"y":1.097},{"s":"B3","x":482,"y":1.101},{"s":"B3","x":490,"y":1.1005},{"s":"B3","x":499,"y":1.0992},{"s":"B3","x":506,"y":1.0975},{"s":"B3","x":514,"y":1.0948},{"s":"B3","x":528,"y":1.092},{"s":"B3","x":542,"y":1.0897},{"s":"B3","x":555,"y":1.089},{"s":"B3","x":570,"y":1.088},{"s":"B3","x":585,"y":1.0875},{"s":"B3","x":600,"y":1.0871},{"s":"B3","x":613,"y":1.0864},{"s":"B3","x":627,"y":1.0855},{"s":"B3","x":645,"y":1.0838},{"s":"B3","x":663,"y":1.0819},{"s":"B3","x":680,"y":1.0803},{"s":"B3","x":699,"y":1.0785},{"s":"B3","x":720,"y":1.077},{"s":"B3","x":747,"y":1.0745},{"s":"B3","x":775,"y":1.0728},{"s":"B3","x":800,"y":1.0715},{"s":"B3","x":820,"y":1.0705},{"s":"B3","x":842,"y":1.0695},{"s":"B3","x":866,"y":1.0695},{"s":"B3","x":900,"y":1.0695},{"s":"B3","x":929,"y":1.0708},{"s":"B3","x":950,"y":1.0713},{"s":"B3","x":962,"y":1.0715},{"s":"B3","x":980,"y":1.0712},{"s":"B3","x":1000,"y":1.0713},{"s":"B3","x":1008,"y":1.0708},{"s":"B3","x":1020,"y":1.0682},{"s":"B3","x":1029,"y":1.07},{"s":"B3","x":1034,"y":1.0674},{"s":"B3","x":1041,"y":1.069},{"s":"B3","x":1050,"y":1.0664},{"s":"B3","x":1055,"y":1.0675},{"s":"B3","x":1062,"y":1.063},{"s":"B3","x":1072,"y":1.0648},{"s":"B3","x":1080,"y":1.066},
{"s":"B4","x":400,"y":1.0959},{"s":"B4","x":402,"y":1.1054},{"s":"B4","x":404,"y":1.0982},{"s":"B4","x":406,"y":1.113},{"s":"B4","x":408,"y":1.1013},{"s":"B4","x":410,"y":1.1094},{"s":"B4","x":412,"y":1.0968},{"s":"B4","x":414,"y":1.1076},{"s":"B4","x":416,"y":1.1031},{"s":"B4","x":418,"y":1.1112},{"s":"B4","x":420,"y":1.0977},{"s":"B4","x":422,"y":1.1058},{"s":"B4","x":424,"y":1.0995},{"s":"B4","x":426,"y":1.1103},{"s":"B4","x":428,"y":1.0968},{"s":"B4","x":430,"y":1.1094},{"s":"B4","x":432,"y":1.1013},{"s":"B4","x":434,"y":1.1121},{"s":"B4","x":436,"y":1.095},{"s":"B4","x":438,"y":1.1058},{"s":"B4","x":440,"y":1.0995},{"s":"B4","x":442,"y":1.1112},{"s":"B4","x":444,"y":1.1031},{"s":"B4","x":446,"y":1.0959},{"s":"B4","x":448,"y":1.113},{"s":"B4","x":450,"y":1.1004},{"s":"B4","x":452,"y":1.1085},{"s":"B4","x":454,"y":1.0977},{"s":"B4","x":456,"y":1.1067},{"s":"B4","x":458,"y":1.0955},{"s":"B4","x":460,"y":1.1103},{"s":"B4","x":462,"y":1.1022},{"s":"B4","x":464,"y":1.1126},{"s":"B4","x":466,"y":1.0986},{"s":"B4","x":468,"y":1.1049},{"s":"B4","x":470,"y":1.0964},{"s":"B4","x":472,"y":1.108},{"s":"B4","x":474,"y":1.1009},{"s":"B4","x":476,"y":1.1117},{"s":"B4","x":478,"y":1.099},{"s":"B4","x":480,"y":1.1063},{"s":"B4","x":482,"y":1.0984},{"s":"B4","x":490,"y":1.099},{"s":"B4","x":500,"y":1.0975},{"s":"B4","x":510,"y":1.095},{"s":"B4","x":518,"y":1.0922},{"s":"B4","x":533,"y":1.0895},{"s":"B4","x":549,"y":1.0871},{"s":"B4","x":560,"y":1.0876},{"s":"B4","x":575,"y":1.087},{"s":"B4","x":588,"y":1.0866},{"s":"B4","x":600,"y":1.0868},{"s":"B4","x":613,"y":1.0858},{"s":"B4","x":627,"y":1.0848},{"s":"B4","x":645,"y":1.0832},{"s":"B4","x":663,"y":1.0814},{"s":"B4","x":680,"y":1.0798},{"s":"B4","x":699,"y":1.0777},{"s":"B4","x":713,"y":1.0759},{"s":"B4","x":730,"y":1.0752},{"s":"B4","x":747,"y":1.0738},{"s":"B4","x":775,"y":1.072},{"s":"B4","x":800,"y":1.0702},{"s":"B4","x":820,"y":1.0692},{"s":"B4","x":842,"y":1.0678},{"s":"B4","x":866,"y":1.0674},{"s":"B4","x":900,"y":1.0674},{"s":"B4","x":929,"y":1.069},{"s":"B4","x":950,"y":1.0703},{"s":"B4","x":962,"y":1.0712},{"s":"B4","x":980,"y":1.0715},{"s":"B4","x":1000,"y":1.0718},{"s":"B4","x":1010,"y":1.0712},{"s":"B4","x":1020,"y":1.0698},{"s":"B4","x":1030,"y":1.071},{"s":"B4","x":1040,"y":1.0695},{"s":"B4","x":1048,"y":1.0705},{"s":"B4","x":1055,"y":1.069},{"s":"B4","x":1062,"y":1.07},{"s":"B4","x":1068,"y":1.068},{"s":"B4","x":1074,"y":1.069},{"s":"B4","x":1080,"y":1.0675}
]
},
"layer": [
{
"encoding": {
"x": {"field": "x", "type": "quantitative",
"scale": {"domain": [400, 1080], "nice": false, "zero": false},
"axis": {"orient": "bottom", "values": [400,500,600,700,800,900,1000], "format": "d",
"grid": true, "gridColor": "#5a5aff", "gridDash": [11,3,2,3], "gridWidth": 1, "gridOpacity": 0.9,
"domainColor": "#808080", "domainWidth": 1.5, "tickColor": "#333333", "tickSize": 9, "tickWidth": 1.5,
"labelFont": "DejaVu Sans", "labelFontSize": 18, "labelColor": "#333333", "labelPadding": 10,
"title": "[nm]", "titleFont": "DejaVu Sans", "titleFontSize": 18, "titleFontWeight": "normal", "titleColor": "#333333",
"titleX": 943, "titleY": 30, "titleAlign": "right", "titleBaseline": "middle", "titleAnchor": null}},
"y": {"field": "y", "type": "quantitative",
"scale": {"domain": [0.9505, 1.111], "nice": false, "zero": false},
"axis": {"orient": "left", "values": [0.96,0.98,1.0,1.02,1.04,1.06,1.08,1.10], "format": ".2f",
"grid": true, "gridColor": "#5a5aff", "gridDash": [11,3,2,3], "gridWidth": 1, "gridOpacity": 0.9,
"domainColor": "#808080", "domainWidth": 1.5, "tickColor": "#333333", "tickSize": 9, "tickWidth": 1.5,
"labelFont": "DejaVu Sans", "labelFontSize": 18, "labelColor": "#333333", "labelPadding": 4,
"title": "Iirrad(WS)/Irrad(LiCor-EG&G)", "titleFont": "DejaVu Sans", "titleFontSize": 25, "titleFontWeight": "bold",
"titleColor": "#222222", "titleAngle": -90, "titleX": -63, "titleY": 280, "titleAlign": "center", "titleBaseline": "middle"}}
},
"layer": [
{"data": {"name": "lines"}, "transform": [{"filter": "test(/^G/, datum.s)"}],
"mark": {"type": "line", "clip": true, "strokeWidth": 1.8, "color": "#0f6332"},
"encoding": {"detail": {"field": "s"}}},
{"data": {"name": "lines"}, "transform": [{"filter": "test(/^R/, datum.s)"}],
"mark": {"type": "line", "clip": true, "strokeWidth": 1.5, "color": "#ff0d0d"},
"encoding": {"detail": {"field": "s"}}},
{"data": {"name": "lines"}, "transform": [{"filter": "test(/^B/, datum.s)"}],
"mark": {"type": "line", "clip": true, "strokeWidth": 1.6, "color": "#1010cc"},
"encoding": {"detail": {"field": "s"}}},
{"data": {"name": "labels"},
"mark": {"type": "text", "align": "left", "baseline": "middle", "font": "DejaVu Sans", "fontSize": 19},
"encoding": {"text": {"field": "t"},
"color": {"field": "c", "type": "nominal", "scale": {"domain": ["G","R","B"], "range": ["#1f5c31","#ff3333","#2525cc"]}, "legend": null}}}
]
},
{
"data": {"name": "labels"},
"mark": {"type": "point", "opacity": 0},
"encoding": {
"x": {"field": "x", "type": "quantitative", "scale": {"domain": [400, 1080], "nice": false, "zero": false},
"axis": {"orient": "top", "values": [400,500,600,700,800,900,1000], "labels": false, "grid": false, "title": null,
"domainColor": "#333333", "domainWidth": 1.5, "tickColor": "#333333", "tickSize": 6, "tickWidth": 1.5}},
"y": {"field": "y", "type": "quantitative", "scale": {"domain": [0.9505, 1.111], "nice": false, "zero": false},
"axis": {"orient": "right", "values": [0.96,0.98,1.0,1.02,1.04,1.06,1.08,1.10], "labels": false, "grid": false, "title": null,
"domainColor": "#111111", "domainWidth": 1.5, "tickColor": "#111111", "tickSize": 5, "tickWidth": 1.5}}
}
}
],
"resolve": {"axis": {"x": "independent", "y": "independent"}}
}
